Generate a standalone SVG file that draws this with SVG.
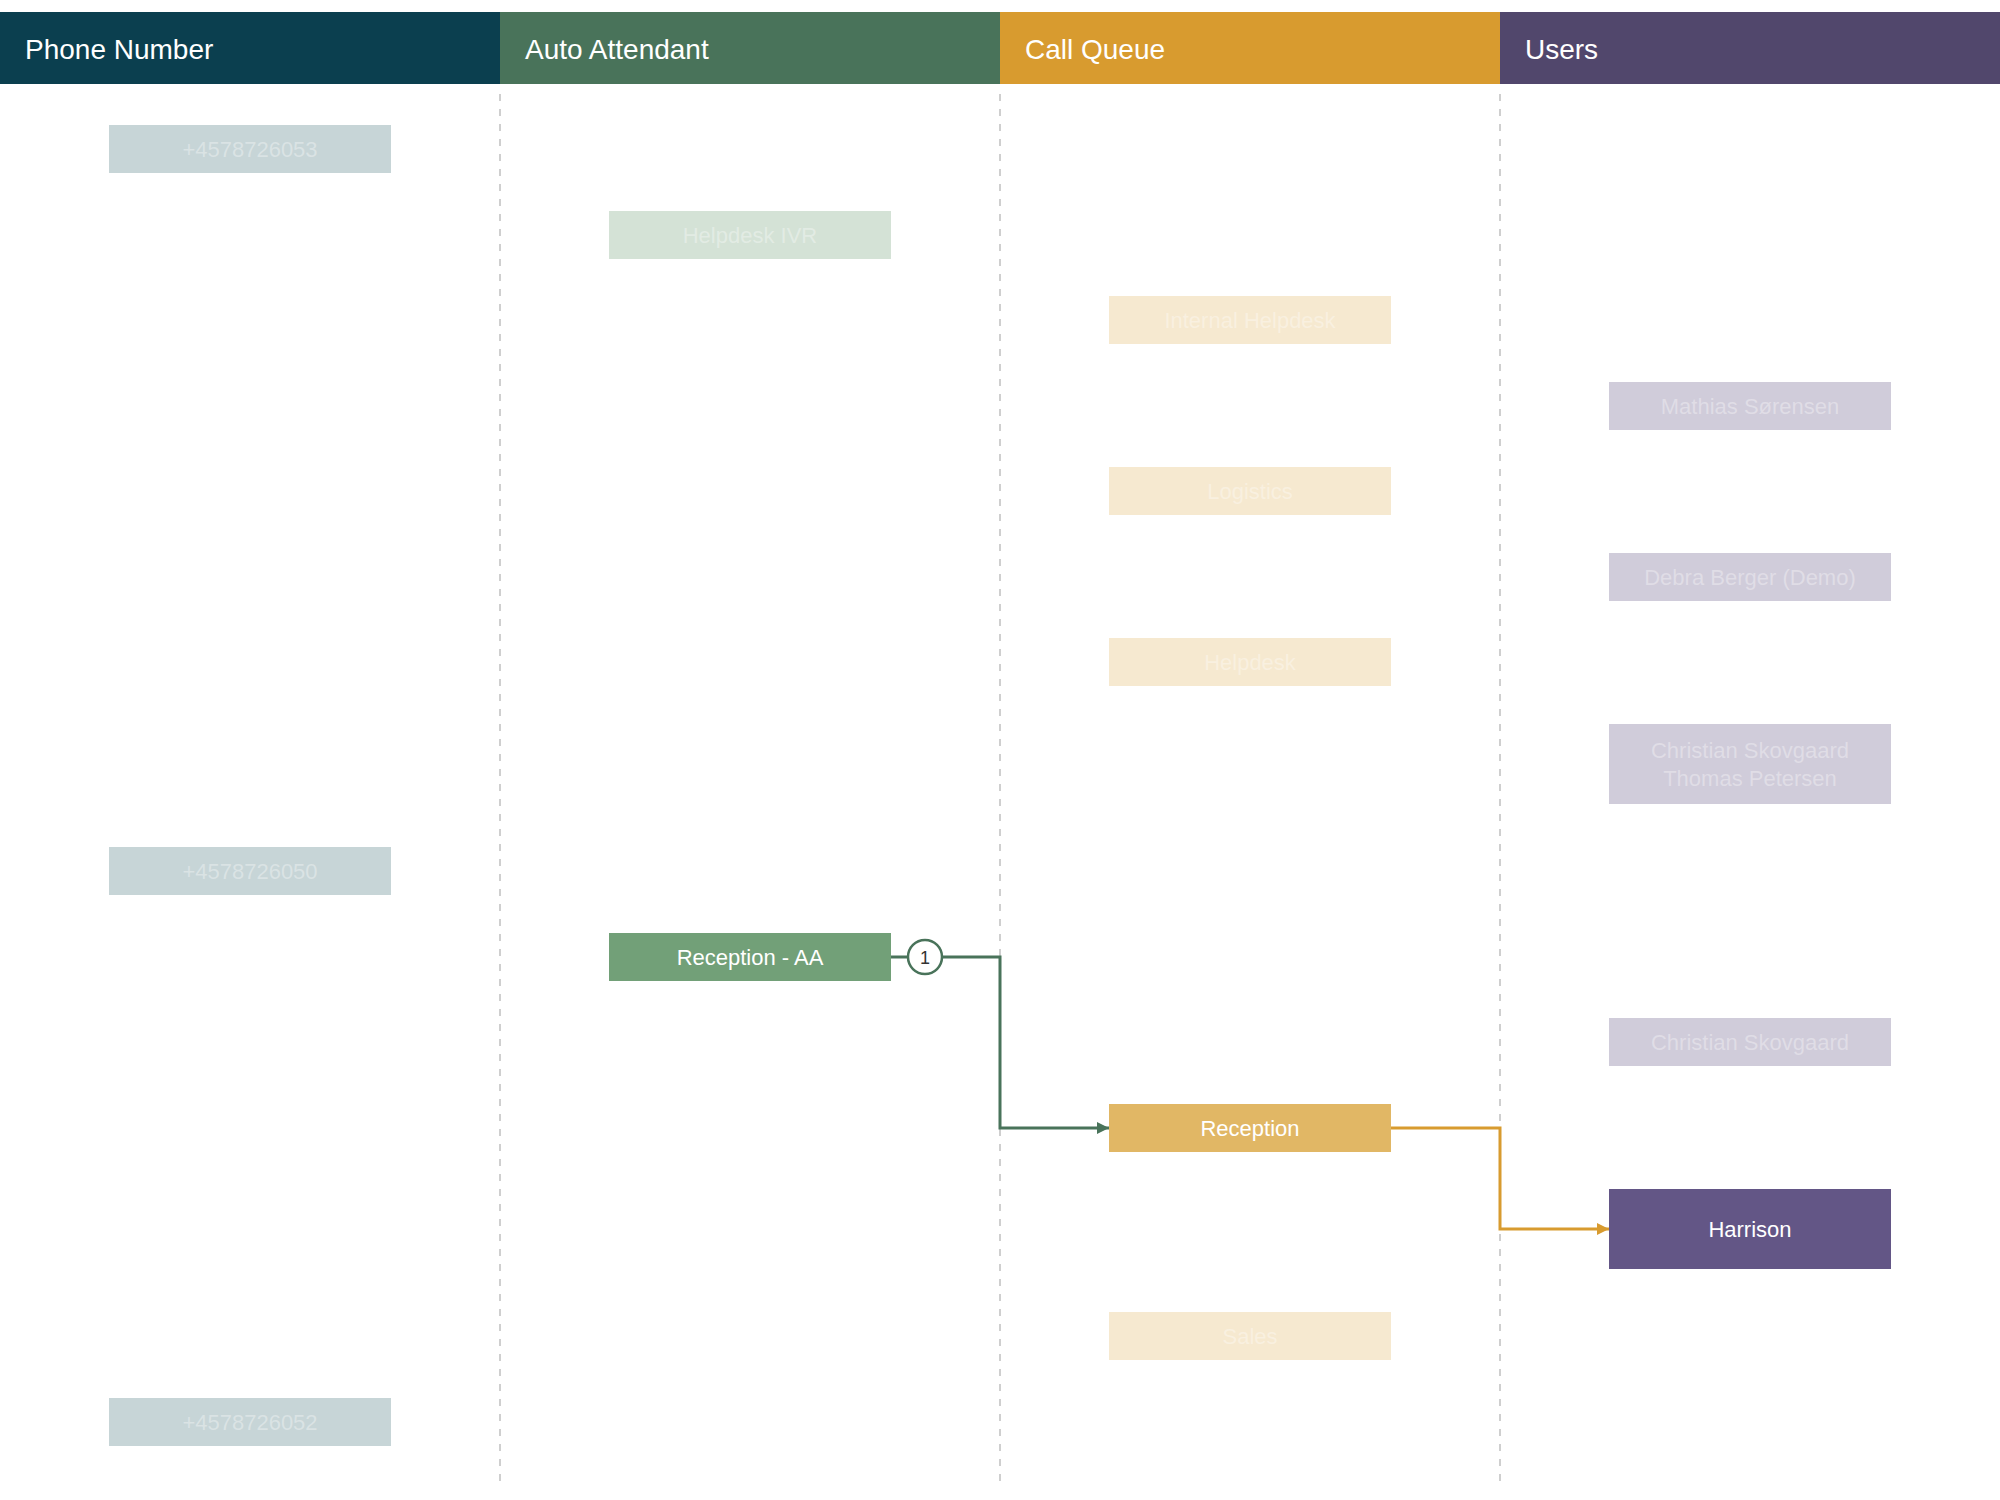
<svg xmlns="http://www.w3.org/2000/svg" width="2000" height="1500" viewBox="0 0 2000 1500">
  <defs>
    <style>
      .hdr { font-family: "Liberation Sans", Arial, sans-serif; font-size: 28px; fill: #ffffff; }
      .lbl { font-family: "Liberation Sans", Arial, sans-serif; font-size: 22px; fill: #ffffff; text-anchor: middle; }
      .divider { stroke: #cfcfcf; stroke-width: 2; stroke-dasharray: 7 8; fill: none; }
      .faded rect { opacity: 0.3; }
      .faded text { fill-opacity: 0.35; }
      .ph { fill: #44737a; }
      .aa { fill: #72a078; }
      .cq { fill: #e1b765; }
      .us { fill: #635686; }
      .conn { fill: none; stroke-width: 3; }
    </style>
    <marker id="arrGreen" viewBox="0 0 12 12" refX="12" refY="6" markerWidth="12" markerHeight="12" markerUnits="userSpaceOnUse" orient="auto">
      <path d="M0,0 L12,6 L0,12 Z" fill="#49735a"/>
    </marker>
    <marker id="arrOrange" viewBox="0 0 12 12" refX="12" refY="6" markerWidth="12" markerHeight="12" markerUnits="userSpaceOnUse" orient="auto">
      <path d="M0,0 L12,6 L0,12 Z" fill="#d89b2f"/>
    </marker>
  </defs>

  <rect x="0" y="0" width="2000" height="1500" fill="#ffffff"/>

  <!-- Column headers -->
  <g id="headers">
    <rect x="0" y="12" width="500" height="72" fill="#0b3f4f"/>
    <rect x="500" y="12" width="500" height="72" fill="#49735a"/>
    <rect x="1000" y="12" width="500" height="72" fill="#d89b2f"/>
    <rect x="1500" y="12" width="500" height="72" fill="#51476c"/>
    <text class="hdr" x="25" y="59">Phone Number</text>
    <text class="hdr" x="525" y="59">Auto Attendant</text>
    <text class="hdr" x="1025" y="59">Call Queue</text>
    <text class="hdr" x="1525" y="59">Users</text>
  </g>

  <!-- Lane dividers -->
  <g id="dividers">
    <line class="divider" x1="500" y1="94" x2="500" y2="1484"/>
    <line class="divider" x1="1000" y1="94" x2="1000" y2="1484"/>
    <line class="divider" x1="1500" y1="94" x2="1500" y2="1484"/>
  </g>

  <!-- Connectors -->
  <g id="connectors">
    <line x1="891" y1="957" x2="908" y2="957" stroke="#49735a" stroke-width="3"/>
    <path class="conn" stroke="#49735a" d="M942,957 H1000 V1128 H1109" marker-end="url(#arrGreen)"/>
    <path class="conn" stroke="#d89b2f" d="M1391,1128 H1500 V1229 H1609" marker-end="url(#arrOrange)"/>
  </g>

  <!-- Phone Number nodes -->
  <g id="phone-4578726053" class="faded">
    <rect class="ph" x="109" y="125" width="282" height="48"/>
    <text class="lbl" x="250" y="157">+4578726053</text>
  </g>
  <g id="phone-4578726050" class="faded">
    <rect class="ph" x="109" y="847" width="282" height="48"/>
    <text class="lbl" x="250" y="879">+4578726050</text>
  </g>
  <g id="phone-4578726052" class="faded">
    <rect class="ph" x="109" y="1398" width="282" height="48"/>
    <text class="lbl" x="250" y="1430">+4578726052</text>
  </g>

  <!-- Auto Attendant nodes -->
  <g id="aa-helpdesk-ivr" class="faded">
    <rect class="aa" x="609" y="211" width="282" height="48"/>
    <text class="lbl" x="750" y="243">Helpdesk IVR</text>
  </g>
  <g id="aa-reception">
    <rect class="aa" x="609" y="933" width="282" height="48"/>
    <text class="lbl" x="750" y="965">Reception - AA</text>
  </g>
  <g id="aa-reception-option1">
    <circle cx="925" cy="957" r="17" fill="#ffffff" stroke="#49735a" stroke-width="2.5"/>
    <text x="925" y="964" font-family="'Liberation Sans', Arial, sans-serif" font-size="18" fill="#333333" text-anchor="middle">1</text>
  </g>

  <!-- Call Queue nodes -->
  <g id="cq-internal-helpdesk" class="faded">
    <rect class="cq" x="1109" y="296" width="282" height="48"/>
    <text class="lbl" x="1250" y="328">Internal Helpdesk</text>
  </g>
  <g id="cq-logistics" class="faded">
    <rect class="cq" x="1109" y="467" width="282" height="48"/>
    <text class="lbl" x="1250" y="499">Logistics</text>
  </g>
  <g id="cq-helpdesk" class="faded">
    <rect class="cq" x="1109" y="638" width="282" height="48"/>
    <text class="lbl" x="1250" y="670">Helpdesk</text>
  </g>
  <g id="cq-reception">
    <rect class="cq" x="1109" y="1104" width="282" height="48"/>
    <text class="lbl" x="1250" y="1136">Reception</text>
  </g>
  <g id="cq-sales" class="faded">
    <rect class="cq" x="1109" y="1312" width="282" height="48"/>
    <text class="lbl" x="1250" y="1344">Sales</text>
  </g>

  <!-- Users nodes -->
  <g id="user-mathias" class="faded">
    <rect class="us" x="1609" y="382" width="282" height="48"/>
    <text class="lbl" x="1750" y="414">Mathias Sørensen</text>
  </g>
  <g id="user-debra" class="faded">
    <rect class="us" x="1609" y="553" width="282" height="48"/>
    <text class="lbl" x="1750" y="585">Debra Berger (Demo)</text>
  </g>
  <g id="user-christian-thomas" class="faded">
    <rect class="us" x="1609" y="724" width="282" height="80"/>
    <text class="lbl" x="1750" y="758">Christian Skovgaard</text>
    <text class="lbl" x="1750" y="786">Thomas Petersen</text>
  </g>
  <g id="user-christian" class="faded">
    <rect class="us" x="1609" y="1018" width="282" height="48"/>
    <text class="lbl" x="1750" y="1050">Christian Skovgaard</text>
  </g>
  <g id="user-harrison">
    <rect class="us" x="1609" y="1189" width="282" height="80"/>
    <text class="lbl" x="1750" y="1237">Harrison</text>
  </g>
</svg>
